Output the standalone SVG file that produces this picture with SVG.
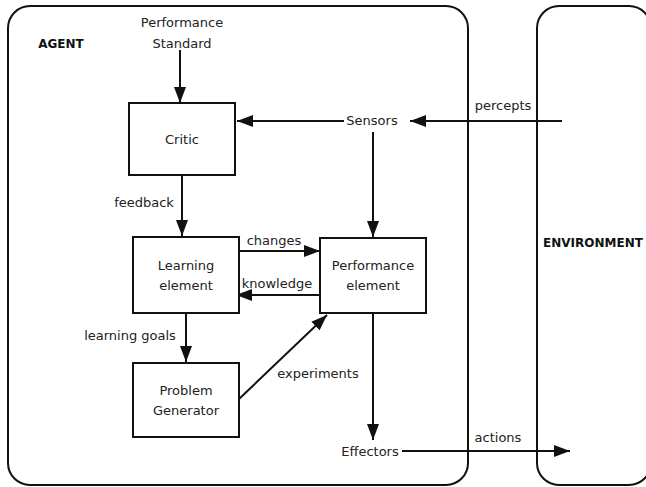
<svg xmlns="http://www.w3.org/2000/svg" width="646" height="487" viewBox="0 0 646 487">
<style>
text{font-family:"DejaVu Sans","Liberation Sans",sans-serif;font-size:13px;fill:#222;text-anchor:middle}
.b{font-weight:bold;font-size:12px;fill:#111}
.box{fill:#fff;stroke:#111;stroke-width:2}
.frame{fill:none;stroke:#111;stroke-width:2}
.c{fill:none;stroke:#111;stroke-width:2;marker-end:url(#ah)}
</style>
<defs>
<marker id="ah" viewBox="0 0 16 12" refX="16" refY="6" markerWidth="16" markerHeight="12" markerUnits="userSpaceOnUse" orient="auto">
<path d="M0,0 L16,6 L0,12 z" fill="#111"/>
</marker>
</defs>
<rect fill="#fff" width="646" height="487"/>
<g id="agent">
<rect class="frame" x="8" y="6" width="460" height="479" rx="22" ry="22"/>
<text class="b" x="61" y="48">AGENT</text>
</g>
<g id="environment">
<rect class="frame" x="537" y="6" width="114" height="479" rx="22" ry="22"/>
<text class="b" x="593" y="247">ENVIRONMENT</text>
</g>
<g id="connectors">
<line class="c" x1="180" y1="50" x2="180" y2="103"/>
<line class="c" x1="344" y1="121" x2="237" y2="121"/>
<line class="c" x1="562" y1="121" x2="410" y2="121"/>
<line class="c" x1="373" y1="132" x2="373" y2="237"/>
<line class="c" x1="182" y1="175" x2="182" y2="236"/>
<line class="c" x1="239" y1="251" x2="320" y2="251"/>
<line class="c" x1="320" y1="295" x2="236" y2="295"/>
<line class="c" x1="186" y1="313" x2="186" y2="362"/>
<line class="c" x1="239" y1="399" x2="327" y2="315"/>
<line class="c" x1="373" y1="313" x2="373" y2="440"/>
<line class="c" x1="402" y1="451" x2="570" y2="451"/>
<text x="144" y="207">feedback</text>
<text x="274" y="245">changes</text>
<text x="277" y="288">knowledge</text>
<text x="130" y="340">learning goals</text>
<text x="318" y="378">experiments</text>
<text x="503" y="110">percepts</text>
<text x="498" y="442">actions</text>
</g>
<g id="standard">
<text x="182" y="27">Performance</text>
<text x="182" y="48">Standard</text>
</g>
<g id="sensors"><text x="372" y="125">Sensors</text></g>
<g id="effectors"><text x="370" y="456">Effectors</text></g>
<g id="critic">
<rect class="box" x="129" y="103" width="106" height="72"/>
<text x="182" y="144">Critic</text>
</g>
<g id="learning">
<rect class="box" x="133" y="237" width="106" height="76"/>
<text x="186" y="270">Learning</text>
<text x="186" y="290">element</text>
</g>
<g id="performance">
<rect class="box" x="320" y="238" width="106" height="75"/>
<text x="373" y="270">Performance</text>
<text x="373" y="290">element</text>
</g>
<g id="problem">
<rect class="box" x="133" y="363" width="106" height="74"/>
<text x="186" y="395">Problem</text>
<text x="186" y="415">Generator</text>
</g>
</svg>
